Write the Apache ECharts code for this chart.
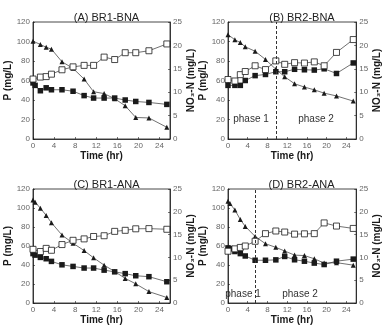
<!DOCTYPE html>
<html><head><meta charset="utf-8">
<script src="https://cdn.jsdelivr.net/npm/echarts@6/dist/echarts.min.js"></script>
<style>html,body{margin:0;padding:0;background:#fff}#c{width:383px;height:326px}</style>
</head><body><div id="c"></div>
<script>
// ---- data ----
const titles = ['(A) BR1-BNA', '(B) BR2-BNA', '(C) BR1-ANA', '(D) BR2-ANA'];
const xTickLabels = [0, 4, 8, 12, 16, 20, 24];
const T15 = [0, 0.4, 1.4, 2.5, 3.5, 5.5, 7.6, 9.7, 11.5, 13.5, 15.5, 17.5, 19.5, 22, 25.4];
const T14 = [0, 1.4, 2.5, 3.5, 5.5, 7.6, 9.7, 11.5, 13.5, 15.5, 17.5, 19.5, 22, 25.4];

// Panel A
const aFilled = [57.5, 55, 49.5, 52.5, 50.5, 50.5, 49, 44.5, 42, 42, 42, 40, 38.5, 37.5, 35.5];
const aOpen = [61.5, 63.5, 64, 66.5, 71, 74, 75.5, 75.5, 84, 81.5, 88.5, 88.5, 90.5, 97.5];
const aNO3 = [20.9, 20.2, 19.6, 19.2, 16.5, 15.1, 12.8, 10.1, 9.7, 8.6, 7.1, 4.6, 4.5, 2.5];
// Panel B
const bFilled = [55, 55, 55, 60, 65, 66.2, 69, 69, 71.5, 71, 70.7, 72, 67.2, 78];
const bOpen = [61, 59.5, 66, 69.2, 75.1, 71.2, 80.1, 76.6, 78.3, 77.9, 79.1, 75.1, 88.8, 102];
const bNO3 = [22.3, 21.2, 20.6, 19.7, 18.75, 17.0, 14.9, 13.3, 11.8, 11.1, 10.5, 9.8, 9.2, 8.1];
// Panel C
const cFilled = [52, 50.4, 48, 46.6, 43.8, 40.2, 38.5, 36.8, 36.8, 34.6, 32.8, 30.9, 28.7, 27.7, 22.4];
const cOpen = [56.5, 54.2, 57.5, 55.5, 61.5, 66, 67.5, 70, 70.8, 75.4, 76.5, 78.1, 78.3, 77.6];
const cNO3 = [22.6, 22.1, 20.8, 19.2, 17.6, 14.9, 13.1, 11.5, 9.9, 8.3, 6.9, 5.4, 4.2, 2.5, 1.2];
// Panel D
const dFilled = [58, 57.3, 54.2, 52, 49.5, 45, 45, 45.4, 49, 45.5, 44, 42, 40.5, 44, 46.2];
const dOpen = [54.5, 57, 58.5, 60, 65, 73, 75.8, 74.7, 72.5, 72.8, 73, 84.3, 81, 78.5];
const dNO3 = [22.3, 21.8, 20.4, 18.3, 16.8, 14.6, 13, 12.2, 11.4, 10.5, 10.4, 9.7, 8.75, 8.85, 8.3];

const phaseTimes = [null, 9.7, null, 5.6];

const panels = [
  {filled: [T15, aFilled], open: [T14, aOpen], no3: [T14, aNO3]},
  {filled: [T14, bFilled], open: [T14, bOpen], no3: [T14, bNO3]},
  {filled: [T15, cFilled], open: [T14, cOpen], no3: [T15, cNO3]},
  {filled: [T15, dFilled], open: [T14, dOpen], no3: [T15, dNO3]}
];

// ---- layout / style ----
const grids = [
  {left: 33, top: 22, width: 137, height: 117},
  {left: 228, top: 22, width: 138, height: 117},
  {left: 33, top: 189, width: 137, height: 118},
  {left: 228, top: 189, width: 137, height: 118}
];
const FONT = 'Liberation Sans, Arial, sans-serif';
const ink = '#1a1a1a';
const pair = (t, v) => t.map((x, i) => [x, v[i]]);

const option = {
  animation: false,
  backgroundColor: '#fff',
  title: [], grid: [], xAxis: [], yAxis: [], series: [], graphic: []
};

grids.forEach((g, i) => {
  option.grid.push(Object.assign({show: true, borderColor: ink, borderWidth: 0.8, backgroundColor: 'transparent'}, g));
  option.title.push({
    text: titles[i], left: g.left + g.width / 2, top: g.top - 15, textAlign: 'center',
    textStyle: {fontFamily: FONT, fontSize: 11, fontWeight: 'normal', color: '#222'}
  });
  option.xAxis.push({
    type: 'value', gridIndex: i, min: 0, max: 26,
    name: 'Time (hr)', nameLocation: 'middle', nameGap: 12,
    nameTextStyle: {fontFamily: FONT, fontSize: 10, fontWeight: 'bold', color: ink},
    axisLine: {lineStyle: {color: ink, width: 0.8}},
    axisTick: {inside: true, length: 2, customValues: xTickLabels, lineStyle: {color: ink, width: 0.6}},
    axisLabel: {customValues: xTickLabels, fontFamily: FONT, fontSize: 8, color: '#666', margin: 3},
    splitLine: {show: false}
  });
  option.yAxis.push({
    type: 'value', gridIndex: i, min: 0, max: 120, interval: 20, position: 'left',
    name: 'P (mg/L)', nameLocation: 'middle', nameGap: 20, nameRotate: 90,
    nameTextStyle: {fontFamily: FONT, fontSize: 10, fontWeight: 'bold', color: ink},
    axisLine: {show: true, lineStyle: {color: ink, width: 0.8}},
    axisTick: {show: true, inside: true, length: 2, lineStyle: {color: ink, width: 0.6}},
    axisLabel: {fontFamily: FONT, fontSize: 8, color: '#666', margin: 3},
    splitLine: {show: false}
  });
  option.yAxis.push({
    type: 'value', gridIndex: i, min: 0, max: 25, interval: 5, position: 'right',
    name: 'NO\u2083-N (mg/L)', nameLocation: 'middle', nameGap: 11, nameRotate: 90,
    nameTextStyle: {fontFamily: FONT, fontSize: 10, fontWeight: 'bold', color: ink},
    axisLine: {show: true, lineStyle: {color: ink, width: 0.8}},
    axisTick: {show: true, inside: true, length: 2, lineStyle: {color: ink, width: 0.6}},
    axisLabel: {fontFamily: FONT, fontSize: 8, color: '#666', margin: 3},
    splitLine: {show: false}
  });
  const p = panels[i];
  const lineStyle = {color: '#333', width: 0.7};
  option.series.push({
    type: 'line', xAxisIndex: i, yAxisIndex: 2 * i + 1, data: pair(p.no3[0], p.no3[1]),
    symbol: 'triangle', symbolSize: 5, itemStyle: {color: ink}, lineStyle: lineStyle, z: 2,
    markLine: phaseTimes[i] == null ? undefined : {
      silent: true, symbol: ['none', 'none'], label: {show: false},
      lineStyle: {color: '#333', type: [3, 2], width: 1},
      data: [{xAxis: phaseTimes[i]}]
    }
  });
  option.series.push({
    type: 'line', xAxisIndex: i, yAxisIndex: 2 * i, data: pair(p.filled[0], p.filled[1]),
    symbol: 'rect', symbolSize: 5.5, itemStyle: {color: ink}, lineStyle: lineStyle, z: 3
  });
  option.series.push({
    type: 'line', xAxisIndex: i, yAxisIndex: 2 * i, data: pair(p.open[0], p.open[1]),
    symbol: 'rect', symbolSize: 6, itemStyle: {color: '#fff', borderColor: ink, borderWidth: 0.8},
    lineStyle: lineStyle, z: 4
  });
});

const phaseStyle = {fontFamily: FONT, fontSize: 10, fill: '#333', textAlign: 'center', textVerticalAlign: 'middle'};
option.graphic = [
  {type: 'text', x: 251, y: 119, style: Object.assign({text: 'phase 1'}, phaseStyle)},
  {type: 'text', x: 316, y: 119, style: Object.assign({text: 'phase 2'}, phaseStyle)},
  {type: 'text', x: 243, y: 294, style: Object.assign({text: 'phase 1'}, phaseStyle)},
  {type: 'text', x: 300, y: 294, style: Object.assign({text: 'phase 2'}, phaseStyle)}
];

const chart = echarts.init(document.getElementById('c'), null, {renderer: 'canvas'});
chart.setOption(option);
</script>
</body></html>
